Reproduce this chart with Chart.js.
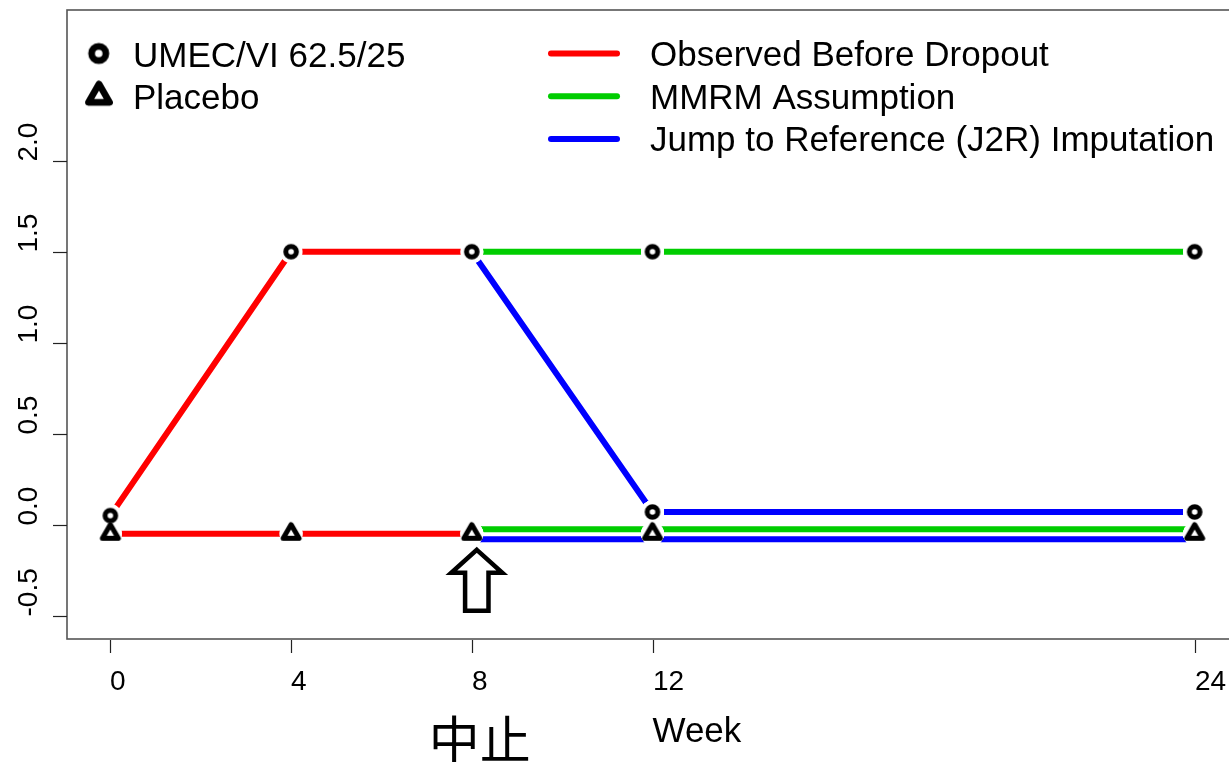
<!DOCTYPE html>
<html>
<head>
<meta charset="utf-8">
<script src="https://cdn.jsdelivr.net/npm/chart.js@4/dist/chart.umd.min.js"></script>
<style>
  html, body { margin: 0; padding: 0; background: #fff; overflow: hidden; }
  #wrap { position: relative; width: 1250px; height: 762px; }
</style>
</head>
<body>
<div id="wrap"><canvas id="dropoutChart"></canvas></div>
<script>
// weeks on the x axis
const weeks = [0, 4, 8, 12, 24];

// UMEC/VI 62.5/25 arm
const umecObserved = [0.05, 1.5, 1.5, null, null];
const umecMMRM     = [null, null, 1.5, 1.5, 1.5];
const umecJ2R      = [null, null, 1.5, 0.07, 0.07];

// Placebo arm
const placeboObserved = [-0.05, -0.05, -0.05, null, null];
const placeboMMRM     = [null, null, -0.025, -0.025, -0.025];
const placeboJ2R      = [null, null, -0.08, -0.08, -0.08];
const placeboMarkers  = [-0.05, -0.05, -0.05, -0.05, -0.05];

const xTicks = [0, 4, 8, 12, 24];
const yTicks = [-0.5, 0, 0.5, 1, 1.5, 2];

const groupLabels = ['UMEC/VI 62.5/25', 'Placebo'];
const methodLabels = ['Observed Before Dropout', 'MMRM Assumption', 'Jump to Reference (J2R) Imputation'];
const methodColors = ['#FF0000', '#00CD00', '#0000FF'];

const FONT = '"Liberation Sans", Arial, sans-serif';

function toPoints(vals) {
  return weeks.map((w, i) => ({ x: w, y: vals[i] })).filter(p => p.y !== null);
}

// union of all UMEC points (circles)
function umecPoints() {
  const seen = {};
  const out = [];
  [umecObserved, umecMMRM, umecJ2R].forEach(series => {
    toPoints(series).forEach(p => {
      const key = p.x + ':' + p.y;
      if (!seen[key]) { seen[key] = true; out.push(p); }
    });
  });
  return out;
}

// R-like open markers (thick black outline, small white hole)
function makeCircle(scale) {
  const c = document.createElement('canvas');
  const s = Math.ceil(22 * scale);
  c.width = s; c.height = s;
  const ctx = c.getContext('2d');
  ctx.beginPath();
  ctx.arc(s / 2, s / 2, 5.3 * scale, 0, Math.PI * 2);
  ctx.fillStyle = '#fff';
  ctx.fill();
  ctx.lineWidth = 5 * scale;
  ctx.strokeStyle = '#000';
  ctx.stroke();
  return c;
}

function makeTriangle(scale) {
  const c = document.createElement('canvas');
  const s = Math.ceil(30 * scale);
  c.width = s; c.height = s;
  const ctx = c.getContext('2d');
  const r = 9.2 * scale;
  const cx = s / 2, cy = s / 2;
  ctx.beginPath();
  ctx.moveTo(cx, cy - r);
  ctx.lineTo(cx + r * Math.sqrt(3) / 2, cy + r / 2);
  ctx.lineTo(cx - r * Math.sqrt(3) / 2, cy + r / 2);
  ctx.closePath();
  ctx.fillStyle = '#fff';
  ctx.fill();
  ctx.lineJoin = 'round';
  ctx.lineWidth = 5 * scale;
  ctx.strokeStyle = '#000';
  ctx.stroke();
  return c;
}

const circleImg = makeCircle(1);
const triangleImg = makeTriangle(1);
const circleLegend = makeCircle(1.35);
const triangleLegend = makeTriangle(1.33);

function lineSet(label, vals, color) {
  return {
    label: label,
    data: toPoints(vals),
    borderColor: color,
    backgroundColor: color,
    borderWidth: 6,
    borderCapStyle: 'round',
    borderJoinStyle: 'round',
    pointRadius: 0,
    showLine: true,
    fill: false,
    tension: 0,
    order: 1,
    isLine: true
  };
}

function markerSet(label, data, img) {
  return {
    label: label,
    data: data,
    showLine: false,
    pointStyle: img,
    pointRadius: 8,
    pointHoverRadius: 8,
    order: 0
  };
}

// leave a gap in the lines around every marker, like R type="b"
const gapPlugin = {
  id: 'gapPlugin',
  afterDatasetDraw(chart, args) {
    const ds = chart.data.datasets[args.index];
    if (!ds.isLine) return;
    const ctx = chart.ctx;
    ctx.save();
    ctx.globalCompositeOperation = 'destination-out';
    chart.data.datasets.forEach((d, i) => {
      if (d.isLine) return;
      chart.getDatasetMeta(i).data.forEach(pt => {
        ctx.beginPath();
        ctx.arc(pt.x, pt.y, 11.5, 0, Math.PI * 2);
        ctx.fill();
      });
    });
    ctx.restore();
  }
};

// box, axes, labels, legend, arrow
const decorPlugin = {
  id: 'decorPlugin',
  afterDraw(chart) {
    const ctx = chart.ctx;
    const a = chart.chartArea;
    const xs = chart.scales.x, ys = chart.scales.y;
    ctx.save();

    // plot box
    ctx.strokeStyle = '#555';
    ctx.lineWidth = 1.6;
    ctx.strokeRect(a.left, a.top, a.right - a.left, a.bottom - a.top);

    // x ticks
    ctx.strokeStyle = '#222';
    ctx.lineWidth = 1.2;
    ctx.fillStyle = '#000';
    ctx.font = '28px ' + FONT;
    ctx.textAlign = 'left';
    ctx.textBaseline = 'alphabetic';
    xTicks.forEach(v => {
      const px = Math.round(xs.getPixelForValue(v)) + 0.5;
      ctx.beginPath();
      ctx.moveTo(px, a.bottom + 1);
      ctx.lineTo(px, a.bottom + 14);
      ctx.stroke();
      ctx.fillText(String(v), px - 0.5, a.bottom + 51);
    });

    // y ticks, rotated labels
    yTicks.forEach(v => {
      const py = Math.round(ys.getPixelForValue(v)) + 0.5;
      ctx.beginPath();
      ctx.moveTo(a.left - 14, py);
      ctx.lineTo(a.left, py);
      ctx.stroke();
      ctx.save();
      ctx.translate(37, py);
      ctx.rotate(-Math.PI / 2);
      ctx.fillText(v.toFixed(1), 0, 0);
      ctx.restore();
    });

    // x axis title
    ctx.font = '35px ' + FONT;
    ctx.fillText('Week', (a.left + a.right) / 2, a.bottom + 103);

    // left legend: groups
    const rowY = [53.5, 96.2, 138.9];
    ctx.drawImage(circleLegend, 98.7 - circleLegend.width / 2, rowY[0] - circleLegend.height / 2);
    ctx.drawImage(triangleLegend, 99 - triangleLegend.width / 2, rowY[1] - triangleLegend.height / 2);
    groupLabels.forEach((t, i) => ctx.fillText(t, 133, rowY[i] + 13));

    // right legend: methods
    methodLabels.forEach((t, i) => {
      ctx.strokeStyle = methodColors[i];
      ctx.lineWidth = 6;
      ctx.lineCap = 'round';
      ctx.beginPath();
      ctx.moveTo(551, rowY[i]);
      ctx.lineTo(617, rowY[i]);
      ctx.stroke();
      ctx.fillStyle = '#000';
      ctx.fillText(t, 650, rowY[i] + 12.5);
    });

    // dropout arrow under week 8
    const ax = xs.getPixelForValue(8) + 5;
    const tip = ys.getPixelForValue(-0.05) + 16;
    ctx.beginPath();
    ctx.moveTo(ax, tip);
    ctx.lineTo(ax + 25.5, tip + 23);
    ctx.lineTo(ax + 11.7, tip + 23);
    ctx.lineTo(ax + 11.7, tip + 61);
    ctx.lineTo(ax - 11.7, tip + 61);
    ctx.lineTo(ax - 11.7, tip + 23);
    ctx.lineTo(ax - 25.5, tip + 23);
    ctx.closePath();
    ctx.fillStyle = '#fff';
    ctx.fill();
    ctx.lineJoin = 'miter';
    ctx.lineCap = 'butt';
    ctx.lineWidth = 4.5;
    ctx.strokeStyle = '#000';
    ctx.stroke();

    ctx.fillStyle = '#000';
    ctx.textAlign = 'center';
    ctx.font = '51px "Noto Sans CJK JP", "Noto Sans CJK SC", sans-serif';
    ctx.fillText('中止', ax + 3, a.bottom + 120);

    ctx.restore();
  }
};

new Chart(document.getElementById('dropoutChart'), {
  type: 'scatter',
  data: {
    datasets: [
      markerSet(groupLabels[1], toPoints(placeboMarkers), triangleImg),
      markerSet(groupLabels[0], umecPoints(), circleImg),
      lineSet(methodLabels[0], umecObserved, methodColors[0]),
      lineSet(methodLabels[0], placeboObserved, methodColors[0]),
      lineSet(methodLabels[1], umecMMRM, methodColors[1]),
      lineSet(methodLabels[1], placeboMMRM, methodColors[1]),
      lineSet(methodLabels[2], umecJ2R, methodColors[2]),
      lineSet(methodLabels[2], placeboJ2R, methodColors[2])
    ]
  },
  options: {
    responsive: true,
    maintainAspectRatio: false,
    animation: false,
    layout: { padding: { left: 67, top: 10, right: 12, bottom: 123 } },
    scales: {
      x: { type: 'linear', min: -0.96, max: 24.96, display: false },
      y: { type: 'linear', min: -0.628, max: 2.828, display: false }
    },
    plugins: {
      legend: { display: false },
      tooltip: { enabled: false }
    }
  },
  plugins: [gapPlugin, decorPlugin]
});
</script>
</body>
</html>
